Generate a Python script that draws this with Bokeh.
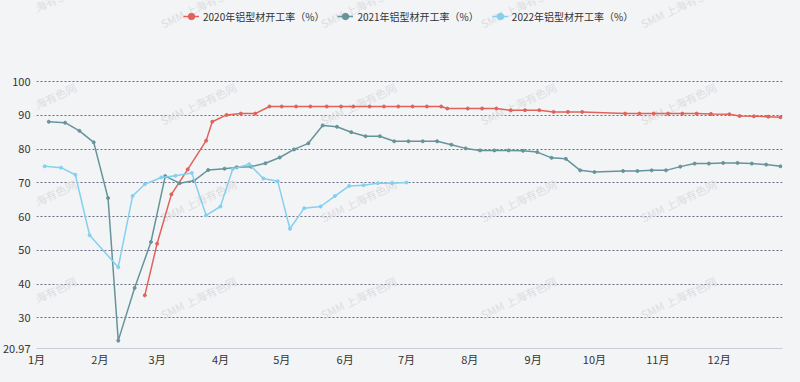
from bokeh.plotting import figure
from bokeh.models import (Range1d, FixedTicker, Legend, LegendItem, Label,
                          GlobalInlineStyleSheet)
from bokeh.embed import file_html
from bokeh.resources import INLINE

# ---------------- data ----------------
month_ticks = [0, 31, 59, 90, 120, 151, 181, 212, 243, 273, 304, 334]
month_labels = ["1月", "2月", "3月", "4月", "5月", "6月", "7月", "8月", "9月", "10月", "11月", "12月"]

y_ticks = [20.97, 30, 40, 50, 60, 70, 80, 90, 100]
y_tick_labels = ["20.97", "30", "40", "50", "60", "70", "80", "90", "100"]
grid_ticks = [30, 40, 50, 60, 70, 80, 90, 100]

series_names = ["2020年铝型材开工率（%）", "2021年铝型材开工率（%）", "2022年铝型材开工率（%）"]

days_2020 = [53, 59, 66, 74, 83, 86, 93, 100, 107, 114, 120, 127, 134, 142, 149, 155,
             163, 170, 177, 184, 191, 198, 201, 211, 218, 225, 232, 239, 246, 253, 260,
             267, 288, 295, 302, 309, 316, 323, 330, 339, 344, 351, 358, 364]
vals_2020 = [36.7, 52.0, 66.6, 74.0, 82.5, 88.1, 90.1, 90.5, 90.5, 92.6, 92.6, 92.6,
             92.6, 92.6, 92.6, 92.6, 92.6, 92.6, 92.6, 92.6, 92.6, 92.6, 92.0, 92.0,
             92.0, 92.0, 91.5, 91.5, 91.5, 91.0, 91.0, 91.0, 90.5, 90.5, 90.5, 90.5,
             90.5, 90.5, 90.4, 90.3, 89.8, 89.7, 89.6, 89.4]

days_2021 = [6, 14, 21, 28, 35, 40, 48, 56, 63, 70, 77, 84, 92, 98, 105, 112, 119, 126,
             133, 140, 147, 154, 161, 168, 175, 182, 189, 196, 203, 210, 217, 224, 231,
             238, 245, 252, 259, 266, 273, 287, 294, 301, 308, 315, 322, 329, 336, 343,
             350, 357, 364]
vals_2021 = [88.1, 87.8, 85.4, 82.0, 65.5, 23.3, 38.9, 52.5, 72.0, 69.9, 70.6, 73.8,
             74.2, 74.6, 74.8, 75.8, 77.5, 79.9, 81.7, 87.0, 86.6, 85.0, 83.8, 83.8,
             82.3, 82.3, 82.3, 82.3, 81.3, 80.2, 79.6, 79.6, 79.6, 79.5, 79.1, 77.4,
             77.1, 73.7, 73.2, 73.5, 73.5, 73.7, 73.7, 74.8, 75.7, 75.7, 75.9, 75.9,
             75.7, 75.4, 74.9]

days_2022 = [4, 12, 19, 26, 40, 47, 53, 61, 68, 76, 83, 90, 96, 104, 111, 118, 124, 131,
             139, 146, 153, 160, 167, 174, 181]
vals_2022 = [74.9, 74.5, 72.4, 54.5, 45.0, 66.1, 69.6, 71.6, 72.1, 72.9, 60.4, 63.0,
             74.1, 75.5, 71.3, 70.5, 56.4, 62.5, 63.0, 66.1, 69.1, 69.3, 69.9, 69.9, 70.1]

colors = ["#e2615a", "#66949b", "#85d0f0"]

# ---------------- layout / style ----------------
BG = "#f3f4f6"
FONT = "Noto Sans CJK SC"
W, H = 800, 382
FRAME_L, FRAME_R, FRAME_B = 35, 782, 348   # page px of plot area
Y100_PX = 81                               # page px of the 100 gridline
y_min, y_max_grid = 20.97, 100
px_per_unit = (FRAME_B - Y100_PX) / (y_max_grid - y_min)
y_top = y_max_grid + Y100_PX / px_per_unit  # frame extends to the top edge

p = figure(width=W, height=H,
           x_range=Range1d(0, 365), y_range=Range1d(y_min, y_top),
           output_backend="svg", toolbar_location=None,
           min_border_left=FRAME_L, min_border_right=W - FRAME_R,
           min_border_top=0, min_border_bottom=H - FRAME_B,
           background_fill_color=BG, border_fill_color=BG,
           outline_line_color=None)
p.stylesheets = [GlobalInlineStyleSheet(css="body { background-color: %s; }" % BG)]

# x axis
xa = p.xaxis[0]
xa.ticker = FixedTicker(ticks=month_ticks)
xa.major_label_overrides = dict(zip(month_ticks, month_labels))
xa.major_tick_line_color = None
xa.minor_tick_line_color = None
xa.major_tick_out = 0
xa.minor_tick_out = 0
xa.major_tick_in = 0
xa.axis_line_color = "#c9cdd9"
xa.major_label_text_font_size = "11px"
xa.major_label_text_color = "#333333"
xa.major_label_text_font = FONT
xa.major_label_standoff = 2

# y axis
p.yaxis.ticker = FixedTicker(ticks=y_ticks)
p.yaxis.major_label_overrides = dict(zip(y_ticks, y_tick_labels))
p.yaxis.major_tick_line_color = None
p.yaxis.minor_tick_line_color = None
p.yaxis.major_tick_out = 0
p.yaxis.minor_tick_out = 0
p.yaxis.axis_line_color = None
p.yaxis.major_label_text_font_size = "11px"
p.yaxis.major_label_text_color = "#333333"
p.yaxis.major_label_text_font = FONT
p.yaxis.major_label_standoff = 6

# grid
p.xgrid.grid_line_color = None
p.ygrid.ticker = FixedTicker(ticks=grid_ticks)
p.ygrid.grid_line_color = "#666a84"
p.ygrid.grid_line_dash = "2 2"
p.ygrid.grid_line_width = 1

# watermarks (frame-relative screen units)
wm_cols = [37, 197, 357, 517, 677]
wm_rows = [6, 103, 200, 297]
for ry in wm_rows:
    for cx in wm_cols:
        p.add_layout(Label(x=cx - FRAME_L, y=FRAME_B - ry, x_units="screen", y_units="screen",
                           text="SMM 上海有色网", angle=0.44,
                           text_align="center", text_baseline="middle",
                           text_font=FONT, text_font_size="11px",
                           text_color="#dcdde1", level="underlay"))

# series
items = []
for name, d, v, c in zip(series_names, [days_2020, days_2021, days_2022],
                         [vals_2020, vals_2021, vals_2022], colors):
    lr = p.line(d, v, line_color=c, line_width=1.5)
    sr = p.scatter(d, v, size=3, marker="circle", fill_color=c, line_color=c)
    items.append(LegendItem(label=name, renderers=[lr, sr]))

legend = Legend(items=items, orientation="horizontal",
                location=(182 - FRAME_L, FRAME_B - 26),
                glyph_width=16, glyph_height=18, label_standoff=4, spacing=13,
                label_height=20, padding=0, margin=0, border_line_color=None,
                background_fill_alpha=0,
                label_text_font=FONT, label_text_font_size="10px",
                label_text_color="#333333")
p.add_layout(legend)

open("out.html", "w").write(file_html(p, INLINE))
